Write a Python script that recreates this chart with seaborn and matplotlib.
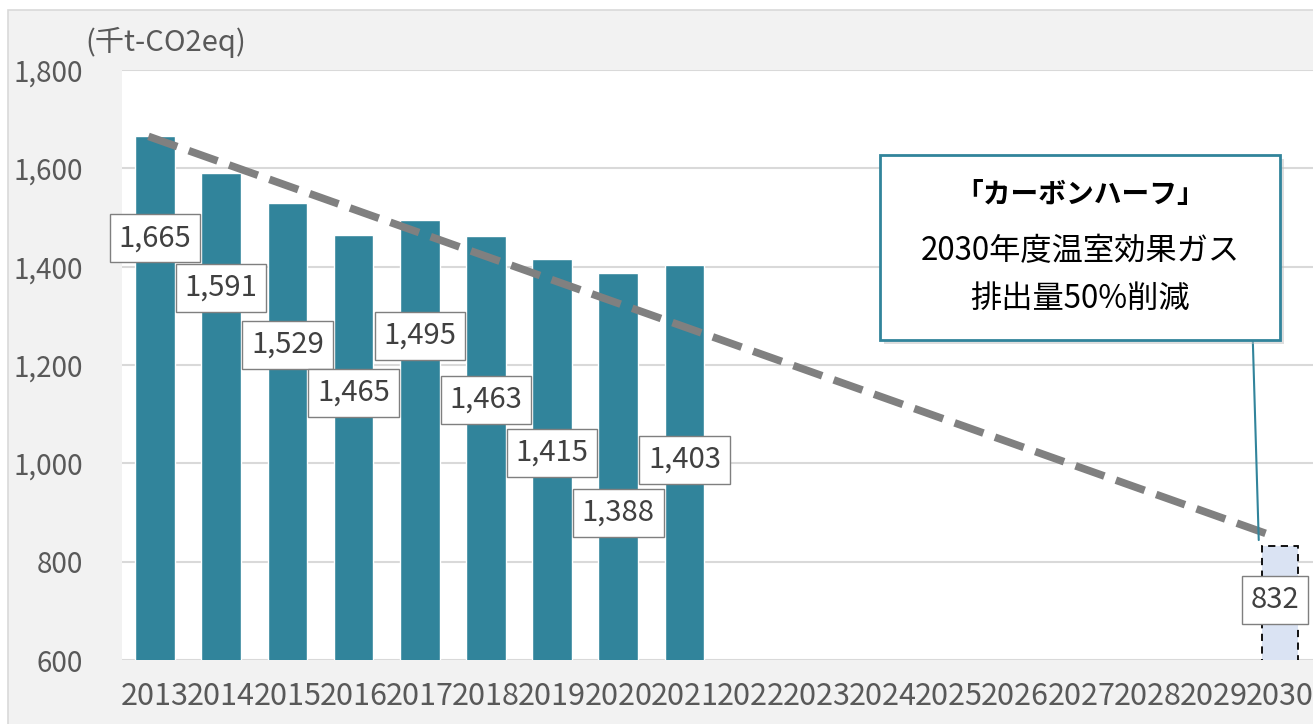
import numpy as np
import pandas as pd
import matplotlib
matplotlib.use('Agg')
import matplotlib.pyplot as plt
import matplotlib.patches as mpatches
import seaborn as sns

years = [str(y) for y in range(2013, 2031)]
actual_years = ['2013', '2014', '2015', '2016', '2017', '2018', '2019', '2020', '2021']
emissions = [1665, 1591, 1529, 1465, 1495, 1463, 1415, 1388, 1403]
target_year = '2030'
target_value = 832
trend_values = [1665, 852]
label_texts = ['1,665', '1,591', '1,529', '1,465', '1,495', '1,463', '1,415', '1,388', '1,403']
label_y = [1458, 1357, 1241, 1143, 1259, 1129, 1021, 899, 1007]
callout_lines = ['「カーボンハーフ」', '2030年度温室効果ガス', '排出量50%削減']
unit_label = '(千t-CO2eq)'

sns.set_theme(style='white')
plt.rcParams['font.family'] = ['Noto Sans CJK JP', 'DejaVu Sans']

teal = '#31849b'
grey_txt = '#595959'

fig = plt.figure(figsize=(13.13, 7.24), dpi=100, facecolor='white')
fig.patches.append(mpatches.Rectangle((8 / 1313, -0.01), 1.0, 1 - 10 / 724 + 0.01,
                                      transform=fig.transFigure, facecolor='#f2f2f2',
                                      edgecolor='#d9d9d9', linewidth=1.2, zorder=-10))
ax = fig.add_axes([122 / 1313, 1 - 660 / 724, 1 - 122 / 1313, (660 - 70) / 724])
ax.set_zorder(1)
ax.set_facecolor('white')

df = pd.DataFrame({'year': actual_years, 'value': emissions})
sns.barplot(data=df, x='year', y='value', order=years, color=teal, width=0.6,
            saturation=1, ax=ax, zorder=2)

tdf = pd.DataFrame({'year': [target_year], 'value': [target_value]})
sns.barplot(data=tdf, x='year', y='value', order=years, color='#dae3f3', width=0.55,
            saturation=1, ax=ax, zorder=2, edgecolor='black', linewidth=1.3,
            linestyle=(0, (4, 3)))

ax.set_ylim(600, 1800)
ax.set_xlim(-0.5, len(years) - 0.5)
ax.set_yticks(range(600, 1801, 200))
ax.set_yticklabels([f'{v:,}' for v in range(600, 1801, 200)])
ax.yaxis.grid(True, color='#d9d9d9', linewidth=1.5, zorder=0)
ax.set_axisbelow(True)
for s in ax.spines.values():
    s.set_visible(False)
ax.axhline(600, color='#d9d9d9', linewidth=2, zorder=1)
ax.tick_params(axis='y', length=0, pad=28, labelsize=20, labelcolor=grey_txt)
ax.tick_params(axis='x', length=0, pad=15, labelsize=22, labelcolor=grey_txt)
ax.set_xlabel('')
ax.set_ylabel('')

# trend line
ax.plot([-0.1, len(years) - 1.1], trend_values, color='#808080', linewidth=5.5,
        dashes=(4, 1.6), zorder=3, solid_capstyle='butt', dash_capstyle='butt')

# value labels
box = dict(boxstyle='square,pad=0.3', facecolor='white', edgecolor='#7f7f7f', linewidth=1)
for i, (t, yv) in enumerate(zip(label_texts, label_y)):
    ax.text(i, yv, t, ha='center', va='center', fontsize=21, color='#404040', zorder=5,
            bbox=box)
ax.text(years.index(target_year) - 0.07, 722, f'{target_value:,}', ha='center',
        va='center', fontsize=21, color='#404040', zorder=5, bbox=box)

# callout box
x0, x1, y0, y1 = 10.96, 17.0, 1251, 1627
shadow = mpatches.Rectangle((x0 + 0.06, y0 - 8), x1 - x0, y1 - y0, facecolor='#bfbfbf',
                            edgecolor='none', alpha=0.5, zorder=5)
ax.add_patch(shadow)
ax.add_patch(mpatches.Rectangle((x0, y0), x1 - x0, y1 - y0, facecolor='white',
                                edgecolor=teal, linewidth=2, zorder=6))
ax.plot([16.59, 16.68], [y0, 844], color=teal, linewidth=1.5, zorder=4)
cx = (x0 + x1) / 2
ax.text(cx, 1545, callout_lines[0], ha='center', va='center', fontsize=20,
        fontweight='bold', color='black', zorder=7)
ax.text(cx, 1432, callout_lines[1], ha='center', va='center', fontsize=22.5,
        color='black', zorder=7)
ax.text(cx, 1334, callout_lines[2], ha='center', va='center', fontsize=22.5,
        color='black', zorder=7)

fig.text(85 / 1313, 1 - 42 / 724, unit_label, ha='left', va='center', fontsize=21,
         color=grey_txt)

fig.savefig('out.png', dpi=100, facecolor=fig.get_facecolor())
